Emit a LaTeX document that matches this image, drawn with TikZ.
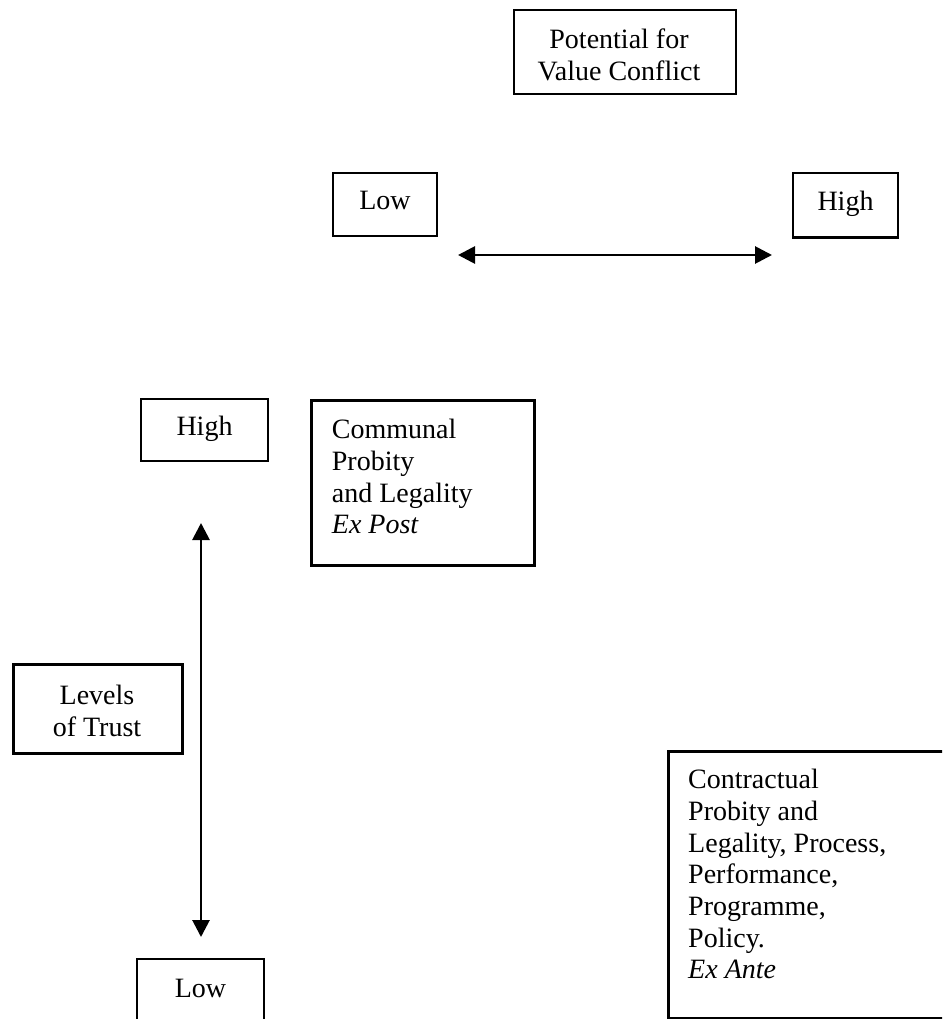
\documentclass[tikz,border=0pt]{standalone}
\usepackage{fontspec}
\setmainfont{Liberation Serif}
\usetikzlibrary{arrows.meta}
\newcommand\diagfont{\fontsize{28}{31.7}\selectfont}
\tikzset{
  box/.style={draw, line width=2.7pt, rectangle, inner sep=0pt, font=\diagfont},
  oneline/.style={box, text height=19pt, text depth=9pt},
  txt/.style={inner sep=0pt, font=\diagfont},
  twohead/.style={line width=2.8pt,
    {Triangle[length=17pt,width=17pt]}-{Triangle[length=17pt,width=17pt]}}
}
\begin{document}
\begin{tikzpicture}[x=1pt, y={(0pt,-1pt)}]
  \useasboundingbox (0,0) rectangle (942,1019);
  \clip (0,0) rectangle (942,1019);

  % heading: value conflict axis
  \node[box, minimum width=222pt, minimum height=84pt] (potbox) at (625,52) {};
  \node[txt, align=center, anchor=north] (pottxt) at (619,29) {Potential for\\Value Conflict};
  \node[oneline, minimum width=104pt, minimum height=63pt] (vlow) at (385,204.5) {Low};
  \node[oneline, minimum width=105pt, minimum height=64.7pt] (vhigh) at (845.5,205.3) {High};
  \coordinate (hl) at (458,255);
  \coordinate (hr) at (772,255);
  \draw[twohead] (hl) -- (hr);

  % trust axis
  \node[oneline, minimum width=127pt, minimum height=62pt] (thigh) at (204.5,430) {High};
  \node[oneline, minimum width=127pt, minimum height=66pt] (tlow) at (200.5,992) {Low};
  \node[box, minimum width=169pt, minimum height=89pt, anchor=north west] (trustbox) at (12,663) {};
  \node[txt, align=center, anchor=north] (trusttxt) at (97,685) {Levels\\of Trust};
  \coordinate (vt) at (201,523);
  \coordinate (vb) at (201,937);
  \draw[twohead] (vt) -- (vb);

  % the two regimes
  \node[box, minimum width=223pt, minimum height=165pt, anchor=north west] (commbox) at (310,399) {};
  \node[txt, align=left, anchor=north west] (commtxt) at (331.7,419)
    {Communal\\Probity\\and Legality\\\textit{Ex Post}};
  \node[box, minimum width=300pt, minimum height=267pt, anchor=north west] (contbox) at (667,750) {};
  \node[txt, align=left, anchor=north west] (conttxt) at (688,769)
    {Contractual\\Probity and\\Legality, Process,\\Performance,\\Programme,\\Policy.\\\textit{Ex Ante}};
\end{tikzpicture}
\end{document}
